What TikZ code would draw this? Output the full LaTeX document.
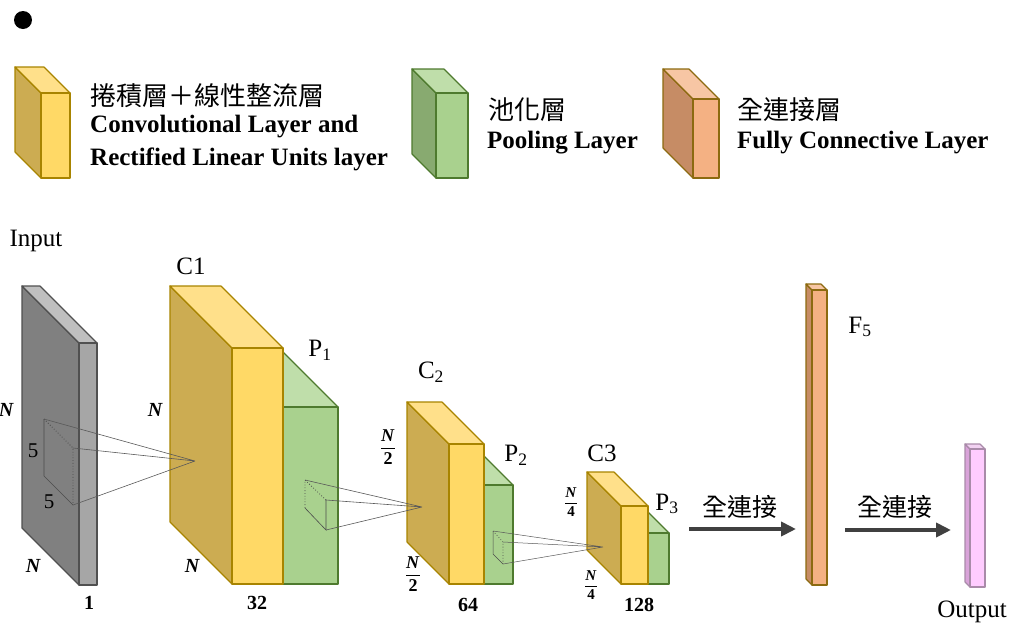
\documentclass[tikz,border=0pt]{standalone}
\usepackage{amsmath}
\usepackage{fontspec}
\setmainfont{Liberation Serif}
\newfontfamily\cjk{Noto Sans CJK TC}
\usetikzlibrary{arrows.meta}
\definecolor{yelF}{HTML}{FFD966}\definecolor{yelS}{HTML}{CCAC52}\definecolor{yelT}{HTML}{FFE08A}\definecolor{yelB}{HTML}{A88400}
\definecolor{grnF}{HTML}{A9D18E}\definecolor{grnS}{HTML}{88AA70}\definecolor{grnT}{HTML}{BFDEAA}\definecolor{grnB}{HTML}{4E7A2E}
\definecolor{orgF}{HTML}{F4B183}\definecolor{orgS}{HTML}{C68C65}\definecolor{orgT}{HTML}{F7C6A4}\definecolor{orgB}{HTML}{8C6A10}
\definecolor{gryF}{HTML}{A6A6A6}\definecolor{gryS}{HTML}{808080}\definecolor{gryT}{HTML}{BFBFBF}\definecolor{gryB}{HTML}{505050}
\definecolor{pnkF}{HTML}{FFCCFF}\definecolor{pnkS}{HTML}{D9A3D9}\definecolor{pnkT}{HTML}{F2D2F2}\definecolor{pnkB}{HTML}{A98BA9}
\definecolor{arr}{HTML}{404040}
\newcommand\cuboid[6]{%
 \filldraw[fill=#1S,draw=#1B,facebox] ({#2-#6},{#4-#6}) -- (#2,#4) -- (#2,#5) -- ({#2-#6},{#5-#6}) -- cycle;
 \filldraw[fill=#1T,draw=#1B,facebox] ({#2-#6},{#4-#6}) -- ({#3-#6},{#4-#6}) -- (#3,#4) -- (#2,#4) -- cycle;
 \filldraw[fill=#1F,draw=#1B,facebox] (#2,#4) rectangle (#3,#5);}
\newcommand\fr[2]{$\displaystyle\frac{\textbf{\textit{#1}}}{\textbf{#2}}$}
\tikzset{
 facebox/.style={line width=1.2pt,line join=round},
 legtxt/.style={anchor=west,inner sep=0pt,font=\fontsize{25}{28}\selectfont\bfseries},
 legcjk/.style={anchor=west,inner sep=0pt,font=\fontsize{26}{28}\selectfont\cjk},
 lbl/.style={inner sep=0pt,font=\fontsize{25}{28}\selectfont},
 nlbl/.style={inner sep=0pt,font=\fontsize{20}{22}\selectfont\bfseries\itshape},
 num/.style={inner sep=0pt,font=\fontsize{20}{22}\selectfont\bfseries},
 fivelbl/.style={inner sep=0pt,font=\fontsize{21}{22}\selectfont},
 frac2/.style={inner sep=0pt,font=\fontsize{18}{20}\selectfont},
 frac4/.style={inner sep=0pt,font=\fontsize{15}{16}\selectfont},
 rf/.style={draw=black!70,line width=0.6pt},
 rfdot/.style={draw=black!70,line width=0.8pt,dotted},
 ray/.style={draw=black!65,line width=0.6pt},
 bigarrow/.style={draw=arr,line width=4pt,-{Triangle[length=15pt,width=14pt]}},
 arrlbl/.style={inner sep=0pt,font=\fontsize{25}{26}\selectfont\cjk}
}
\begin{document}
\begin{tikzpicture}[x=1pt,y=-1pt]
\useasboundingbox (0,0) rectangle (1014,630);
% bullet
\fill[black] (23,20) circle (9pt);
% legend
\cuboid{yel}{41}{70}{93}{178}{26}
\node[legcjk] (l1a) at (90,96) {捲積層＋線性整流層};
\node[legtxt] (l1b) at (90,127) {Convolutional Layer and};
\node[legtxt] (l1c) at (90,159) {Rectified Linear Units layer};
\cuboid{grn}{436}{468}{93}{178}{24}
\node[legcjk] (l2a) at (488,110) {池化層};
\node[legtxt] (l2b) at (487,143) {Pooling Layer};
\cuboid{org}{693}{719}{99}{178}{30}
\node[legcjk] (l3a) at (737,110) {全連接層};
\node[legtxt] (l3b) at (737,143) {Fully Connective Layer};
% input
\cuboid{gry}{79}{97}{343}{585}{57}
\node[lbl] (inp) at (36,241) {Input};
\node[nlbl] (n1) at (6,410) {N};
\node[nlbl] (n2) at (33,566) {N};
\node[num] (d1) at (89,603) {1};
% C1 and P1
\cuboid{grn}{283}{338}{407}{584}{62}
\cuboid{yel}{232}{283}{348}{584}{62}
\node[lbl] (c1) at (191,266) {C1};
\node[lbl] (p1) at (320,350) {P\textsubscript{1}};
\node[nlbl] (n3) at (155,410) {N};
\node[nlbl] (n4) at (192,566) {N};
\node[num] (d32) at (257,603) {32};
% C2 and P2
\cuboid{grn}{484}{513}{485}{584}{42}
\cuboid{yel}{449}{484}{444}{584}{42}
\node[lbl] (c2) at (431,372) {C\textsubscript{2}};
\node[lbl] (p2) at (516,455) {P\textsubscript{2}};
\node[frac2] (n5) at (388,447) {\fr{N}{2}};
\node[frac2] (n6) at (413,574) {\fr{N}{2}};
\node[num] (d64) at (468,605) {64};
% C3 and P3
\cuboid{grn}{648}{669}{533}{584}{34}
\cuboid{yel}{621}{648}{506}{584}{34}
\node[lbl] (c3) at (602,453) {C3};
\node[lbl] (p3) at (667,504) {P\textsubscript{3}};
\node[frac4] (n7) at (571,502) {\fr{N}{4}};
\node[frac4] (n8) at (591,585) {\fr{N}{4}};
\node[num] (d128) at (639,605) {128};
% F5 and output
\cuboid{org}{812}{827}{290}{585}{6}
\node[lbl] (f5) at (860,327) {F\textsubscript{5}};
\cuboid{pnk}{970}{985}{449}{587}{5}
\node[lbl] (out) at (972,612) {Output};
% receptive field on input
\coordinate (ia) at (44,419); \coordinate (ib) at (73,448);
\coordinate (ic) at (73,505); \coordinate (id) at (44,476);
\coordinate (t1) at (195,461);
\draw[rf] (ia) -- (id) -- (ic);
\draw[rfdot] (ia) -- (ib) -- (ic);
\draw[ray] (ia) -- (t1) (ib) -- (t1) (ic) -- (t1);
\node[fivelbl] (f5a) at (33,451) {5};
\node[fivelbl] (f5b) at (49,502) {5};
% receptive field on P1
\coordinate (pa) at (305,480); \coordinate (pb) at (326,500);
\coordinate (pc) at (326,530); \coordinate (pd) at (305,508);
\coordinate (t2) at (422,507);
\draw[rf] (pd) -- (pc) -- (pb);
\draw[rfdot] (pb) -- (pa) -- (pd);
\draw[ray] (pa) -- (t2) (pb) -- (t2) (pc) -- (t2);
% receptive field on P2
\coordinate (qa) at (493,531); \coordinate (qb) at (503,542);
\coordinate (qc) at (503,564); \coordinate (qd) at (493,554);
\coordinate (t3) at (603,547);
\draw[rf,line width=0.5pt] (qa) -- (qd) -- (qc);
\draw[rfdot,line width=0.6pt] (qa) -- (qb) -- (qc);
\draw[ray,line width=0.5pt] (qa) -- (t3) (qb) -- (t3) (qc) -- (t3);
% fully connected arrows
\coordinate (a1s) at (689,529); \coordinate (a1e) at (796,529);
\coordinate (a2s) at (845,530); \coordinate (a2e) at (951,530);
\draw[bigarrow] (a1s) -- (a1e);
\draw[bigarrow] (a2s) -- (a2e);
\node[arrlbl] (fc1) at (740,507) {全連接};
\node[arrlbl] (fc2) at (895,507) {全連接};
\end{tikzpicture}
\end{document}
